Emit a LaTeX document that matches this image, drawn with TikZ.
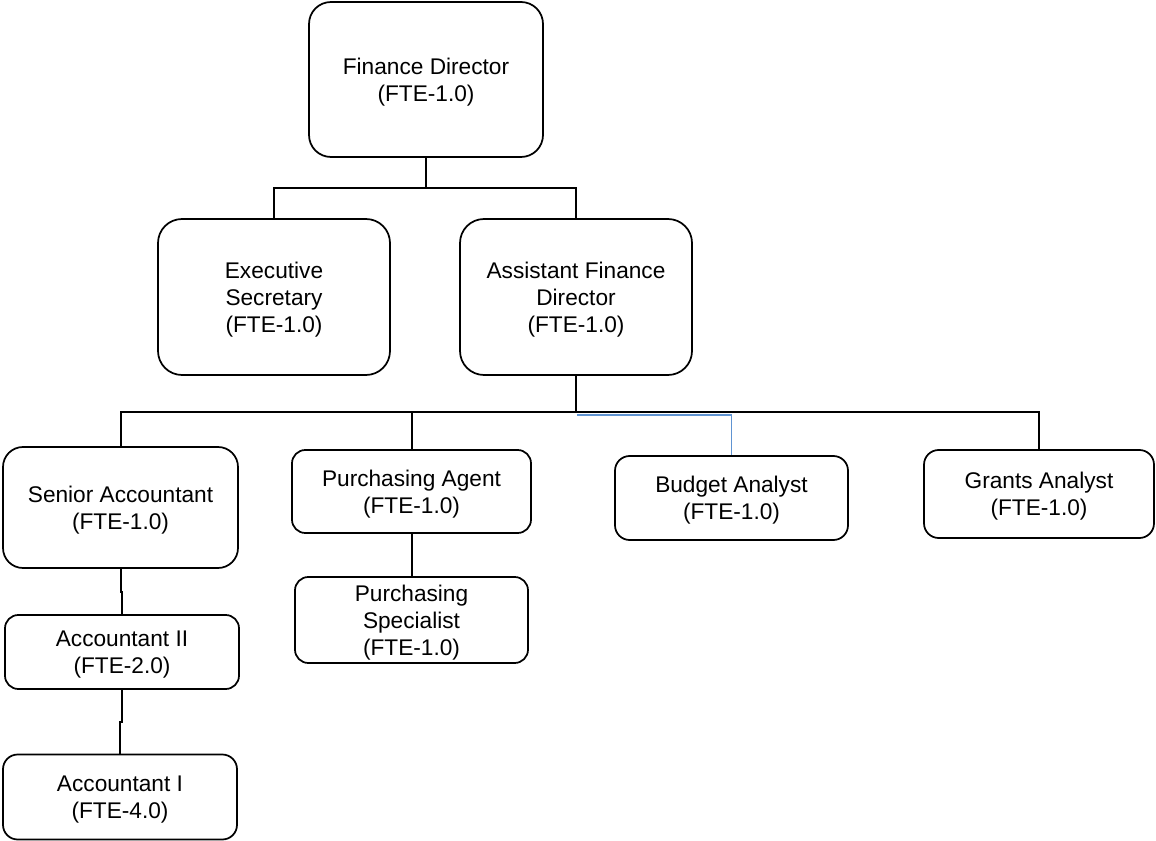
\documentclass[tikz,border=0pt]{standalone}
\usepackage{fontspec}
\setmainfont{Liberation Sans}
\definecolor{linkblue}{RGB}{96,148,210}
\begin{document}
\begin{tikzpicture}[x=0.75pt,y=-0.75pt,
  box/.style={draw=black, line width=1.3pt, fill=white, align=center,
    inner sep=2pt, font=\fontsize{17}{20.3}\selectfont, rounded corners=#1,
    text depth=-3pt},
  box/.default=11pt,
  link/.style={draw=black, line width=1.5pt},
  trunk/.style={draw=black, line width=2.2pt},
  bluelink/.style={draw=linkblue, line width=1.3pt}]
\useasboundingbox (0,0) rectangle (1156,841);

% top level
\node[box=16.5pt, minimum width=175.5pt, minimum height=116.25pt] (fd) at (426,79.5)
  {Finance Director\\(FTE-1.0)};

% second level
\node[box=18pt, minimum width=174pt, minimum height=117pt] (es) at (274,297)
  {Executive\\Secretary\\(FTE-1.0)};
\node[box=18pt, minimum width=174pt, minimum height=117pt] (afd) at (576,297)
  {Assistant Finance\\Director\\(FTE-1.0)};

% third level
\node[box=15pt, minimum width=176.25pt, minimum height=90.75pt] (sa) at (120.5,507.5)
  {Senior Accountant\\(FTE-1.0)};
\node[box=10pt, minimum width=179.25pt, minimum height=62.25pt] (pa) at (411.5,491.5)
  {Purchasing Agent\\(FTE-1.0)};
\node[box=11pt, minimum width=174.75pt, minimum height=63pt] (ba) at (731.5,498)
  {Budget Analyst\\(FTE-1.0)};
\node[box=11pt, minimum width=172.5pt, minimum height=66pt] (ga) at (1039,494)
  {Grants Analyst\\(FTE-1.0)};

% lower levels
\node[box=10pt, minimum width=174.75pt, minimum height=64.5pt] (ps) at (411.5,620)
  {Purchasing\\Specialist\\(FTE-1.0)};
\node[box=10pt, minimum width=175.5pt, minimum height=55.5pt] (acc2) at (122,652)
  {Accountant II\\(FTE-2.0)};
\node[box=11pt, minimum width=175.5pt, minimum height=63.75pt] (acc1) at (120,797)
  {Accountant I\\(FTE-4.0)};

% junction points
\coordinate (j1) at (426,188);
\coordinate (j2) at (576,412);
\coordinate (j3) at (577,415);
\coordinate (jogA) at (122,592);
\coordinate (jogB) at (120,722);

% connectors
\draw[link] (fd.south) -- (j1);
\draw[link] (es.north) |- (j1) -| (afd.north);
\draw[trunk] (afd.south) -- (j2);
\draw[link] (sa.north) |- (j2) -| (ga.north);
\draw[link] (pa.north) -- (pa.north |- j2);
\draw[bluelink] (j3) -| (ba.north);
\draw[link] (pa.south) -- (ps.north);
\draw[link] (sa.south) |- (jogA) -- (acc2.north);
\draw[link] (acc2.south) |- (jogB) -- (acc1.north);
\end{tikzpicture}
\end{document}
